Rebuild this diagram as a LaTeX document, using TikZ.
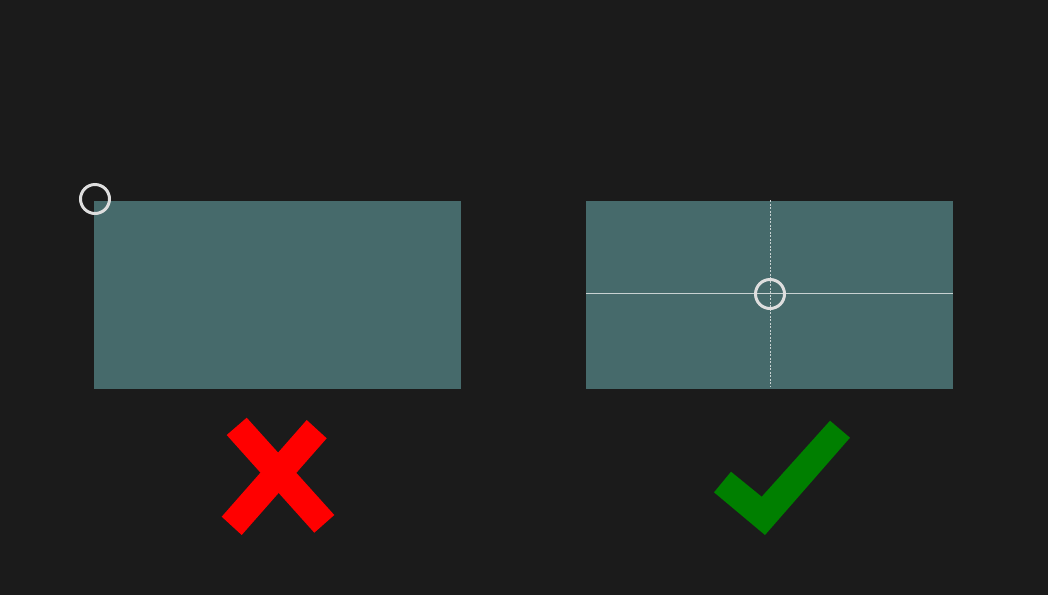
\documentclass[tikz,border=0pt]{standalone}
\definecolor{bg}{RGB}{27,27,27}
\definecolor{panel}{RGB}{70,106,107}
\definecolor{ring}{RGB}{222,222,222}
\definecolor{guide}{RGB}{200,210,210}
\definecolor{crossred}{RGB}{255,0,0}
\definecolor{checkgreen}{RGB}{0,127,0}
\tikzset{
  panelbox/.style={fill=panel},
  pivotring/.style={draw=ring, line width=3pt},
  guideline/.style={draw=guide, line width=0.8pt},
  guidedash/.style={draw=guide, line width=0.8pt, dash pattern=on 2pt off 1.5pt},
  crossmark/.style={fill=crossred},
  checkmark/.style={fill=checkgreen}
}
\begin{document}
\begin{tikzpicture}[x=1pt,y=-1pt]
\fill[bg] (0,0) rectangle (1048,595);
\useasboundingbox (0,0) rectangle (1048,595);
% left panel
\fill[panelbox] (94,201) rectangle (461,389);
\draw[pivotring] (95,199) circle (14.5);
% right panel
\fill[panelbox] (586,201) rectangle (953,389);
\draw[guideline] (586,293) -- (953,293);
\draw[guidedash] (770,200) -- (770,386);
\draw[pivotring] (770,294) circle (14.5);
% red cross
\fill[crossmark] (226.7,435) -- (246.7,417.7) -- (334.3,515) -- (314.3,532.7) -- cycle;
\fill[crossmark] (306.7,420) -- (326.7,438.3) -- (241.7,535) -- (221.7,516.7) -- cycle;
% green check
\fill[checkmark] (714,492.3) -- (731,471.7) -- (761.7,496.7) -- (830,420.7) -- (850,437.7) -- (765,535) -- cycle;
\end{tikzpicture}
\end{document}
